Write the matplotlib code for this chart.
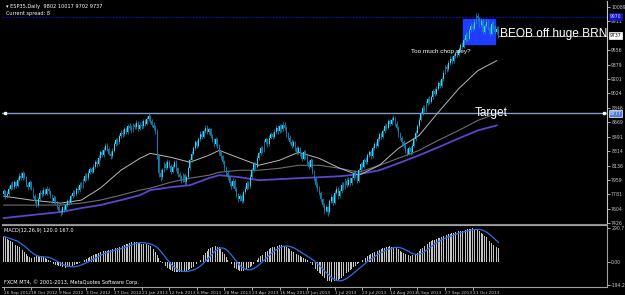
import numpy as np
import matplotlib
matplotlib.use("Agg")
import matplotlib.pyplot as plt
from matplotlib.transforms import blended_transform_factory

# ---------------- data ----------------
closes = [
    7820, 7760, 7790, 7850, 7900, 7870, 7930, 7880, 7960, 8010,
    7980, 8040, 7990, 7900, 7870, 7930, 7850, 7760, 7700, 7650,
    7720, 7800, 7780, 7840, 7790, 7850, 7820, 7760, 7700, 7740,
    7680, 7620, 7580, 7560, 7620, 7590, 7650, 7700, 7680, 7760,
    7800, 7780, 7850, 7830, 7900, 7880, 7950, 8010, 7980, 8050,
    8090, 8060, 8120, 8180, 8150, 8230, 8300, 8260, 8330, 8380,
    8340, 8280, 8250, 8320, 8400, 8450, 8420, 8500, 8540, 8520,
    8580, 8550, 8620, 8600, 8570, 8630, 8610, 8660, 8590, 8640,
    8620, 8680, 8650, 8710, 8740, 8690, 8640, 8600, 8560, 8250,
    8050, 7990, 8080, 8150, 8110, 8180, 8130, 8060, 8120, 8180,
    8100, 8030, 7990, 7950, 8020, 7930, 7990, 8100, 8200, 8280,
    8350, 8420, 8380, 8460, 8520, 8490, 8560, 8600, 8550, 8580,
    8500, 8450, 8400, 8460, 8380, 8300, 8250, 8180, 8100, 8050,
    7990, 7920, 7880, 7950, 7850, 7780, 7720, 7760, 7700, 7810,
    7850, 7920, 7880, 8000, 8080, 8150, 8120, 8230, 8290, 8350,
    8320, 8420, 8460, 8400, 8480, 8520, 8490, 8550, 8600, 8560,
    8620, 8580, 8640, 8600, 8520, 8480, 8430, 8380, 8420, 8350,
    8300, 8350, 8280, 8220, 8300, 8250, 8180, 8120, 8200, 8060,
    7980, 7900, 7850, 7800, 7720, 7650, 7580, 7620, 7560, 7700,
    7750, 7680, 7800, 7850, 7760, 7820, 7900, 7870, 7950, 7900,
    7960, 7920, 7980, 8050, 8010, 7950, 8080, 8150, 8120, 8200,
    8180, 8260, 8300, 8250, 8350, 8400, 8380, 8460, 8520, 8490,
    8560, 8620, 8600, 8680, 8650, 8700, 8720, 8650, 8600, 8520,
    8480, 8420, 8380, 8320, 8280, 8350, 8300, 8380, 8460, 8540,
    8620, 8700, 8780, 8850, 8820, 8900, 8950, 8920, 8980, 9050,
    9020, 9080, 9150, 9120, 9200, 9280, 9350, 9320, 9400, 9450,
    9420, 9480, 9520, 9500, 9560, 9620, 9600, 9680, 9740, 9700,
    9800, 9850, 9820, 9900, 9980, 9950, 9870, 9920, 9780, 9850,
    9900, 9830, 9760, 9880, 9850, 9780, 9820, 9737,
]
opens = [
    7790, 7820, 7760, 7790, 7850, 7900, 7870, 7930, 7880, 7960,
    8010, 7980, 8040, 7990, 7900, 7870, 7930, 7850, 7760, 7700,
    7650, 7720, 7800, 7780, 7840, 7790, 7850, 7820, 7760, 7700,
    7740, 7680, 7620, 7580, 7560, 7620, 7590, 7650, 7700, 7680,
    7760, 7800, 7780, 7850, 7830, 7900, 7880, 7950, 8010, 7980,
    8050, 8090, 8060, 8120, 8180, 8150, 8230, 8300, 8260, 8330,
    8380, 8340, 8280, 8250, 8320, 8400, 8450, 8420, 8500, 8540,
    8520, 8580, 8550, 8620, 8600, 8570, 8630, 8610, 8660, 8590,
    8640, 8620, 8680, 8650, 8710, 8740, 8690, 8640, 8600, 8560,
    8250, 8050, 7990, 8080, 8150, 8110, 8180, 8130, 8060, 8120,
    8180, 8100, 8030, 7990, 7950, 8020, 7930, 7990, 8100, 8200,
    8280, 8350, 8420, 8380, 8460, 8520, 8490, 8560, 8600, 8550,
    8580, 8500, 8450, 8400, 8460, 8380, 8300, 8250, 8180, 8100,
    8050, 7990, 7920, 7880, 7950, 7850, 7780, 7720, 7760, 7700,
    7810, 7850, 7920, 7880, 8000, 8080, 8150, 8120, 8230, 8290,
    8350, 8320, 8420, 8460, 8400, 8480, 8520, 8490, 8550, 8600,
    8560, 8620, 8580, 8640, 8600, 8520, 8480, 8430, 8380, 8420,
    8350, 8300, 8350, 8280, 8220, 8300, 8250, 8180, 8120, 8200,
    8060, 7980, 7900, 7850, 7800, 7720, 7650, 7580, 7620, 7560,
    7700, 7750, 7680, 7800, 7850, 7760, 7820, 7900, 7870, 7950,
    7900, 7960, 7920, 7980, 8050, 8010, 7950, 8080, 8150, 8120,
    8200, 8180, 8260, 8300, 8250, 8350, 8400, 8380, 8460, 8520,
    8490, 8560, 8620, 8600, 8680, 8650, 8700, 8720, 8650, 8600,
    8520, 8480, 8420, 8380, 8320, 8280, 8350, 8300, 8380, 8460,
    8540, 8620, 8700, 8780, 8850, 8820, 8900, 8950, 8920, 8980,
    9050, 9020, 9080, 9150, 9120, 9200, 9280, 9350, 9320, 9400,
    9450, 9420, 9480, 9520, 9500, 9560, 9620, 9600, 9680, 9740,
    9700, 9800, 9850, 9820, 9900, 9980, 9950, 9870, 9920, 9780,
    9850, 9900, 9830, 9760, 9880, 9850, 9780, 9802,
]
highs = [
    7850, 7840, 7820, 7880, 7930, 7940, 7960, 7950, 7990, 8050,
    8060, 8070, 8060, 8010, 7930, 7960, 7950, 7870, 7780, 7730,
    7750, 7830, 7830, 7870, 7860, 7880, 7870, 7840, 7780, 7770,
    7760, 7700, 7650, 7600, 7640, 7650, 7680, 7730, 7730, 7780,
    7830, 7830, 7870, 7880, 7930, 7930, 7980, 8040, 8040, 8080,
    8120, 8120, 8150, 8210, 8210, 8260, 8330, 8330, 8360, 8410,
    8410, 8360, 8310, 8350, 8430, 8480, 8480, 8530, 8570, 8580,
    8610, 8610, 8650, 8660, 8630, 8660, 8660, 8700, 8690, 8670,
    8680, 8710, 8710, 8750, 8780, 8760, 8710, 8670, 8630, 8580,
    8280, 8090, 8110, 8180, 8190, 8220, 8210, 8150, 8150, 8210,
    8200, 8120, 8060, 8020, 8050, 8040, 8020, 8130, 8230, 8310,
    8380, 8450, 8450, 8490, 8560, 8560, 8590, 8640, 8630, 8610,
    8600, 8530, 8480, 8490, 8480, 8400, 8330, 8270, 8200, 8130,
    8080, 8010, 7950, 7980, 7970, 7870, 7800, 7790, 7780, 7840,
    7880, 7950, 7950, 8030, 8110, 8180, 8180, 8260, 8320, 8380,
    8380, 8450, 8490, 8480, 8510, 8550, 8550, 8580, 8630, 8630,
    8650, 8650, 8670, 8670, 8620, 8550, 8510, 8460, 8450, 8440,
    8380, 8380, 8370, 8300, 8330, 8330, 8270, 8200, 8230, 8220,
    8080, 8000, 7930, 7880, 7820, 7740, 7670, 7650, 7640, 7730,
    7780, 7770, 7830, 7880, 7870, 7850, 7930, 7930, 7980, 7980,
    7990, 7990, 8010, 8080, 8080, 8030, 8110, 8180, 8180, 8230,
    8240, 8290, 8330, 8330, 8380, 8430, 8430, 8490, 8550, 8550,
    8590, 8650, 8660, 8710, 8710, 8730, 8760, 8740, 8680, 8620,
    8550, 8500, 8450, 8400, 8350, 8380, 8380, 8410, 8490, 8570,
    8650, 8730, 8810, 8880, 8880, 8930, 8980, 8990, 9010, 9080,
    9090, 9110, 9180, 9190, 9230, 9310, 9380, 9390, 9430, 9480,
    9490, 9510, 9550, 9560, 9590, 9650, 9660, 9710, 9780, 9780,
    9830, 9890, 9890, 9940, 10017, 10010, 9970, 9950, 9940, 9880,
    9940, 9930, 9850, 9910, 9920, 9870, 9850, 9860,
]
lows = [
    7760, 7730, 7740, 7770, 7830, 7850, 7850, 7860, 7870, 7940,
    7960, 7960, 7970, 7880, 7840, 7850, 7830, 7740, 7670, 7620,
    7630, 7700, 7750, 7760, 7770, 7770, 7790, 7740, 7680, 7680,
    7660, 7600, 7560, 7520, 7540, 7560, 7570, 7630, 7650, 7660,
    7740, 7760, 7760, 7800, 7810, 7860, 7860, 7930, 7950, 7960,
    8030, 8040, 8040, 8100, 8120, 8130, 8210, 8240, 8240, 8310,
    8310, 8260, 8220, 8230, 8300, 8380, 8390, 8400, 8480, 8490,
    8500, 8520, 8530, 8570, 8540, 8550, 8580, 8590, 8560, 8570,
    8590, 8600, 8620, 8630, 8690, 8660, 8610, 8570, 8530, 8220,
    8000, 7950, 7970, 8060, 8080, 8090, 8100, 8030, 8040, 8100,
    8070, 8000, 7960, 7920, 7930, 7900, 7910, 7970, 8080, 8180,
    8260, 8330, 8350, 8360, 8440, 8460, 8470, 8540, 8520, 8530,
    8470, 8420, 8370, 8380, 8350, 8270, 8220, 8150, 8070, 8020,
    7960, 7890, 7850, 7860, 7820, 7750, 7690, 7700, 7670, 7680,
    7790, 7830, 7850, 7860, 7980, 8060, 8090, 8100, 8210, 8270,
    8290, 8300, 8400, 8370, 8380, 8460, 8460, 8470, 8530, 8530,
    8540, 8550, 8560, 8570, 8490, 8450, 8400, 8350, 8360, 8320,
    8270, 8280, 8250, 8190, 8200, 8220, 8150, 8090, 8100, 8030,
    7950, 7870, 7820, 7770, 7690, 7620, 7540, 7560, 7520, 7540,
    7680, 7650, 7660, 7780, 7730, 7740, 7800, 7840, 7850, 7870,
    7880, 7890, 7900, 7960, 7980, 7920, 7930, 8060, 8090, 8100,
    8150, 8160, 8240, 8220, 8230, 8330, 8350, 8360, 8440, 8460,
    8470, 8540, 8570, 8580, 8620, 8630, 8680, 8620, 8570, 8490,
    8450, 8390, 8350, 8290, 8250, 8260, 8270, 8280, 8360, 8440,
    8520, 8600, 8680, 8760, 8790, 8800, 8880, 8890, 8900, 8960,
    8990, 9000, 9060, 9090, 9100, 9180, 9260, 9290, 9300, 9380,
    9390, 9400, 9460, 9470, 9480, 9540, 9570, 9580, 9660, 9670,
    9680, 9780, 9790, 9800, 9880, 9920, 9840, 9840, 9750, 9760,
    9830, 9800, 9730, 9740, 9820, 9750, 9750, 9702,
]
macd_main = [
    220, 212, 200, 190, 182, 170, 160, 150, 141, 130,
    118, 104, 90, 70, 50, 44, 40, 42, 45, 50,
    55, 53, 50, 44, 37, 30, 20, 10, -2, -15,
    -20, -25, -30, -35, -40, -45, -44, -42, -40, -35,
    -30, -25, -18, -12, -5, 2, 10, 18, 26, 35,
    43, 52, 60, 67, 74, 80, 85, 90, 95, 97,
    100, 103, 105, 110, 115, 120, 125, 130, 135, 140,
    145, 152, 160, 168, 175, 173, 172, 170, 167, 163,
    160, 158, 155, 152, 150, 138, 124, 110, 85, 60,
    35, 10, -5, -20, -33, -47, -60, -68, -77, -85,
    -83, -82, -80, -78, -75, -72, -70, -63, -55, -48,
    -40, -27, -13, 0, 20, 40, 60, 77, 93, 110,
    120, 130, 140, 137, 133, 130, 110, 90, 70, 47,
    23, 0, -17, -33, -50, -58, -67, -75, -73, -72,
    -70, -60, -50, -40, -27, -13, 0, 17, 33, 50,
    63, 77, 90, 100, 110, 120, 127, 133, 140, 143,
    147, 150, 143, 137, 130, 120, 110, 100, 90, 80,
    70, 62, 53, 45, 37, 28, 20, 7, -7, -20,
    -37, -53, -70, -87, -103, -120, -133, -147, -160, -163,
    -167, -170, -163, -157, -150, -140, -130, -120, -107, -93,
    -80, -67, -53, -40, -28, -17, -5, 7, 18, 30,
    40, 50, 60, 68, 77, 85, 92, 98, 105, 112,
    118, 125, 128, 132, 135, 133, 132, 130, 120, 110,
    100, 90, 80, 70, 65, 60, 55, 60, 65, 70,
    83, 97, 110, 123, 137, 150, 160, 170, 180, 187,
    193, 200, 205, 210, 215, 222, 228, 235, 240, 245,
    250, 253, 257, 260, 263, 267, 270, 273, 277, 280,
    283, 287, 290, 285, 280, 275, 263, 252, 240, 227,
    213, 200, 183, 167, 150, 140, 130, 120,
]
# moving averages read at sample bars
ma_bars = [0, 16, 33, 45, 56, 68, 79, 85, 97, 108, 119, 125, 137, 148, 160,
           171, 183, 195, 206, 218, 229, 241, 252, 264, 275, 286]
ma_fast = [7759, 7710, 7673, 7710, 7857, 8078, 8225, 8286, 8237, 8176, 8262,
           8323, 8225, 8139, 8201, 8299, 8225, 8102, 8017, 8139, 8348, 8507,
           8789, 9083, 9304, 9427]
ma_mid = [7649, 7649, 7649, 7673, 7710, 7771, 7833, 7857, 7931, 7980, 8017,
          8053, 8078, 8078, 8102, 8139, 8139, 8102, 8053, 8139, 8225, 8323,
          8446, 8568, 8691, 8777]
ma_slow = [7489, 7526, 7563, 7612, 7649, 7710, 7771, 7833, 7870, 7894, 7980,
           8017, 7992, 7955, 7968, 7980, 7992, 8004, 8029, 8078, 8164, 8262,
           8360, 8470, 8568, 8630]

date_labels = ["26 Sep 2012", "18 Oct 2012", "9 Nov 2012", "3 Dec 2012",
               "27 Dec 2012", "21 Jan 2013", "12 Feb 2013", "6 Mar 2013",
               "28 Mar 2013", "23 Apr 2013", "16 May 2013", "7 Jun 2013",
               "1 Jul 2013", "23 Jul 2013", "14 Aug 2013", "5 Sep 2013",
               "27 Sep 2013", "21 Oct 2013"]
date_bars = [16 * i for i in range(len(date_labels))]
price_ticks = [10089, 9911, 9556, 9379, 9201, 9024, 8846, 8669, 8491,
               8314, 8136, 7959, 7781, 7604, 7426]
macd_ticks = [290.7, 0.0, -194.2]
macd_tick_labels = ["290.7", "0.00", "-194.2"]

bid_price = 9737
blue_line = 9970
target = 8777
box_bars = (266.5, 285.0)
box_prices = (9635, 9941)

# ---------------- figure ----------------
W, H = 625, 295
fig = plt.figure(figsize=(W / 100, H / 100), dpi=100, facecolor="black")

x0, x1 = 2, 607
ax = fig.add_axes([x0 / W, 1 - 224 / H, (x1 - x0) / W, 223 / H], facecolor="black")
axm = fig.add_axes([x0 / W, 1 - 287 / H, (x1 - x0) / W, 62 / H], facecolor="black")

n = len(closes)
x = np.arange(n)
o = np.array(opens); c = np.array(closes)
h = np.array(highs); l = np.array(lows)
up = c >= o

ax.vlines(x, l, h, color="#1798c4", lw=0.5, zorder=3)
ax.bar(x[up], (c - o)[up], bottom=o[up], width=0.55, color="#3ad4f6",
       edgecolor="none", zorder=4)
ax.bar(x[~up], (o - c)[~up], bottom=c[~up], width=0.55, color="#137db0",
       edgecolor="none", zorder=4)

ax.plot(ma_bars, ma_slow, color="#5a46cf", lw=1.3, zorder=2)
ax.plot(ma_bars, ma_mid, color="#6e6e6e", lw=0.8, zorder=2)
ax.plot(ma_bars, ma_fast, color="#b9b9b9", lw=0.7, zorder=2)

# rectangle and lines
ax.add_patch(plt.Rectangle((box_bars[0], box_prices[0]), box_bars[1] - box_bars[0],
                           box_prices[1] - box_prices[0], color="#1f3cff", zorder=1))
ax.axhline(blue_line, color="#1010e0", lw=0.8, ls=(0, (1.5, 1.5)), zorder=1)
ax.axhline(target, color="#8898c8", lw=1.0, zorder=2)
ax.plot([0.5], [target], marker="s", ms=2, color="white", zorder=5)
ax.plot([348.5], [target], marker="s", ms=2, color="white", zorder=5)
ax.plot([287, 350], [bid_price, bid_price], color="#9a9a9a", lw=0.6, zorder=2)

fam = ["Liberation Sans", "DejaVu Sans"]
ax.text(287.8, 9760, "BEOB off huge BRN", color="white", fontsize=8.6,
        family=fam, va="center", ha="left", zorder=6)
ax.text(236, 9540, "Too much chop sley?", color="white", fontsize=4.6,
        family=fam, va="center", ha="left", zorder=6)
ax.text(273, 8752, "Target", color="white", fontsize=8.6, family=fam,
        va="baseline", ha="left", zorder=6)
ax.text(0.006, 0.985, "\u25be ESP35,Daily  9802 10017 9702 9737", color="white",
        fontsize=3.6, transform=ax.transAxes, va="top", ha="left")
ax.text(0.006, 0.955, "Current spread: 8", color="white", fontsize=3.6,
        transform=ax.transAxes, va="top", ha="left")

ax.set_xlim(-1, 350)
ax.set_ylim(7416, 10162)
ax.set_xticks([])
ax.yaxis.tick_right()
ax.set_yticks(price_ticks)
ax.set_yticklabels([str(v) for v in price_ticks])
ax.tick_params(axis="y", colors="#c8c8c8", labelsize=3.3, length=2, width=0.6, pad=1)
for s in ["top", "left"]:
    ax.spines[s].set_visible(False)
ax.spines["right"].set_color("#c8c8c8")
ax.spines["bottom"].set_color("#8c8c8c")
ax.spines["right"].set_linewidth(0.8)
ax.spines["bottom"].set_linewidth(0.8)

# right-axis price boxes
tr = blended_transform_factory(ax.transAxes, ax.transData)
def box(val, text, fc, tc, ec):
    ax.text(1.004, val, text, transform=tr, fontsize=3.3, color=tc, va="center",
            ha="left", clip_on=False, zorder=10,
            bbox=dict(boxstyle="square,pad=0.15", fc=fc, ec=ec, lw=0.5))
box(blue_line, "9970", "#1515c8", "#d0d0ff", "#1515c8")
box(bid_price, str(bid_price), "white", "black", "white")
box(target, str(target), "#4a7fd8", "white", "white")

# MACD panel
mm = np.array(macd_main, dtype=float)
signal = np.array([mm[max(0, i - 8):i + 1].mean() for i in range(n)])
axm.bar(x, mm, width=0.5, color="#c4c4c4", edgecolor="none", zorder=2)
axm.plot(x, signal, color="#2a6fe0", lw=0.9, zorder=3)
axm.set_xlim(-1, 350)
axm.set_ylim(-210, 318)
axm.yaxis.tick_right()
axm.set_yticks(macd_ticks)
axm.set_yticklabels(macd_tick_labels)
axm.tick_params(axis="y", colors="#c8c8c8", labelsize=3.3, length=2, width=0.6, pad=1)
axm.set_xticks(date_bars)
axm.set_xticklabels(date_labels)
axm.tick_params(axis="x", colors="#c8c8c8", labelsize=3.1, length=2, width=0.6,
                pad=0.8, direction="out")
for lab in axm.get_xticklabels():
    lab.set_horizontalalignment("left")
axm.spines["left"].set_visible(False)
for s in ["top", "right", "bottom"]:
    axm.spines[s].set_color("#a0a0a0")
    axm.spines[s].set_linewidth(0.8)
axm.text(0.003, 0.95, "MACD(12,26,9) 120.0 167.0", color="white", fontsize=3.6,
         transform=axm.transAxes, va="top", ha="left")
axm.text(0.003, 0.04, "FXCM MT4, \u00a9 2001-2013, MetaQuotes Software Corp.",
         color="white", fontsize=3.6, transform=axm.transAxes, va="bottom", ha="left")

fig.savefig("out.png", dpi=100, facecolor="black")
